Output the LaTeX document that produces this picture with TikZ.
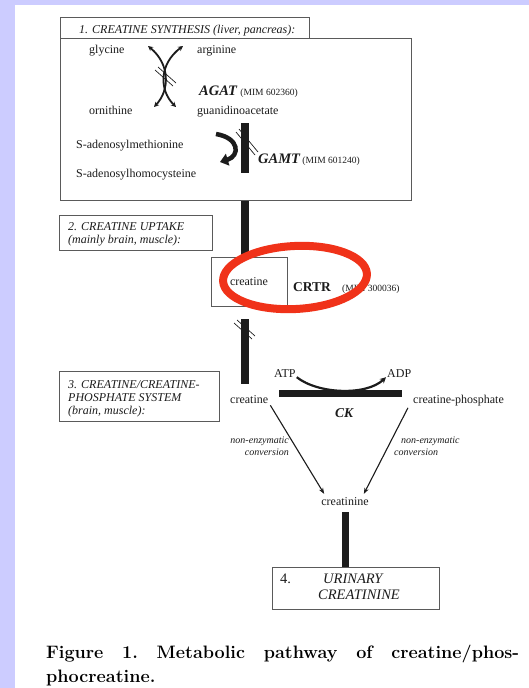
\documentclass[tikz,border=0pt]{standalone}
\usepackage{fontspec}
\newfontfamily\tms{Liberation Serif}
\usetikzlibrary{arrows.meta,calc}
\definecolor{lav}{RGB}{204,204,255}
\definecolor{ink}{RGB}{28,28,28}
\definecolor{framegray}{RGB}{90,90,90}
\definecolor{ring}{RGB}{240,50,25}

\tikzset{
  lbl/.style={inner sep=0pt, anchor=base west, text=ink, font=\tms\fontsize{12}{13}\selectfont},
  ttl/.style={inner sep=0pt, anchor=base west, text=ink, font=\tms\itshape\fontsize{12}{13}\selectfont},
  enz/.style={inner sep=0pt, anchor=base west, text=ink, font=\tms\bfseries\itshape\fontsize{14.5}{16}\selectfont},
  mim/.style={inner sep=0pt, anchor=base west, text=ink, font=\tms\fontsize{9.5}{10}\selectfont},
  note/.style={inner sep=0pt, text=ink, font=\tms\itshape\fontsize{10}{11}\selectfont},
  urine/.style={inner sep=0pt, anchor=base west, text=ink, font=\tms\itshape\fontsize{14.5}{16}\selectfont},
  boxframe/.style={draw=framegray, line width=1pt, inner sep=0pt, anchor=north west},
  bar/.style={line width=7.5pt, draw=ink},
  hatch/.style={line width=0.7pt, draw=ink},
  react/.style={line width=1.8pt, draw=ink, {Stealth[length=5pt,width=5pt]}-{Stealth[length=5pt,width=5pt]}},
  arr/.style={line width=1.1pt, draw=ink, -{Stealth[length=6pt,width=4.5pt]}},
  captext/.style={inner sep=0pt, anchor=base west, font=\bfseries\fontsize{18}{24}\selectfont},
}

\begin{document}
\begin{tikzpicture}[x=1pt,y=-1pt]
\useasboundingbox (0,0) rectangle (529,688);
% page background with the coloured margin
\fill[lav] (0,0) rectangle (529,688);
\fill[white] (15,5) rectangle (529,688);

% ---------- 1. synthesis ----------
\node[boxframe, minimum width=249pt, minimum height=21pt] (t1) at (60,17) {};
\node[boxframe, minimum width=351pt, minimum height=162pt] (b1) at (60,38) {};
\node[ttl] (t1a) at (79,33) {1. CREATINE SYNTHESIS (liver, pancreas):};

\node[lbl] (gly) at (89,53) {glycine};
\node[lbl] (arg) at (197,53) {arginine};
\node[lbl] (orn) at (89,114) {ornithine};
\node[lbl] (gaa) at (197,114) {guanidinoacetate};
\node[enz] (agat) at (199,95) {AGAT};
\node[mim] (agatm) at ([xshift=3pt]agat.base east) {(MIM 602360)};

% AGAT exchange arcs
\coordinate (a1) at (148,46);
\coordinate (a2) at (154,107);
\coordinate (a3) at (183,46);
\coordinate (a4) at (176,107);
\draw[react] (a1) .. controls (170,64) and (170,90) .. (a2);
\draw[react] (a3) .. controls (159,64) and (159,90) .. (a4);
\draw[hatch] (155,70) -- (173,86);
\draw[hatch] (158,67) -- (176,83);

\node[lbl] (sam) at (76,148) {S-adenosylmethionine};
\node[lbl] (sah) at (76,177) {S-adenosylhomocysteine};
\node[enz] (gamt) at (258,163) {GAMT};
\node[mim] (gamtm) at ([xshift=2pt]gamt.base east) {(MIM 601240)};

% GAMT step
\coordinate (axis) at (245,0);
\coordinate (g1) at (245,123);
\coordinate (g2) at (245,173);
\draw[bar, line width=8pt] (g1) -- (g2);
\draw[hatch] (236,132) -- (255,155);
\draw[hatch] (239,129) -- (258,152);
\coordinate (m1) at (216,134);
\coordinate (m2) at (220,162);
\draw[line width=4.5pt, draw=ink, -{Triangle[length=8pt,width=12pt]}]
  (m1) .. controls (240,138) and (240,156) .. (m2);

% ---------- 2. uptake ----------
\node[boxframe, minimum width=153pt, minimum height=35pt] (t2) at (59,215) {};
\node[ttl] (t2a) at (68,230) {2. CREATINE UPTAKE};
\node[ttl] (t2b) at (68,243) {(mainly brain, muscle):};

\node[boxframe, minimum width=76pt, minimum height=49pt] (crbox) at (211,257) {};
\node[lbl, anchor=base] (cr2) at (249,285) {creatine};
\node[inner sep=0pt, anchor=base west, text=ink, font=\tms\bfseries\fontsize{13.5}{15}\selectfont] (crtr) at (293,291) {CRTR};
\node[mim] (crtrm) at (342,291) {(MIM 300036)};

\draw[bar] (b1.south -| axis) -- (crbox.north -| axis);

% ---------- 3. creatine / creatine-phosphate ----------
\node[boxframe, minimum width=160pt, minimum height=50pt] (t3) at (59,371) {};
\node[ttl] (t3a) at (68,388) {3. CREATINE/CREATINE-};
\node[ttl] (t3b) at (68,401) {PHOSPHATE SYSTEM};
\node[ttl] (t3c) at (68,414) {(brain, muscle):};

\node[lbl] (cr3) at (230,403) {creatine};
\node[lbl] (cp) at (413,403) {creatine-phosphate};
\node[lbl] (atp) at (274,377) {ATP};
\node[lbl] (adp) at (387,377) {ADP};
\node[enz, font=\tms\bfseries\itshape\fontsize{13.5}{15}\selectfont] (ck) at (335,417) {CK};

\draw[bar, shorten <=12pt, shorten >=11pt] (crbox.south -| axis) -- (cr3.north -| axis);
\draw[hatch] (234,323) -- (252,339);
\draw[hatch] (237,320) -- (255,336);

\coordinate (ckL) at (279,393.5);
\coordinate (ckR) at (402,393.5);
\draw[bar, line width=7pt] (ckL) -- (ckR);
\draw[line width=2.2pt, draw=ink, -{Stealth[length=6pt,width=6pt]}]
  ([xshift=1pt]atp.south east) .. controls (318,394) and (366,396) .. ([xshift=-1pt]adp.south west);

\node[lbl, anchor=base] (crn) at (345,505) {creatinine};
\draw[arr] ([shift={(2,2)}]cr3.south east) -- ([shift={(3,-3)}]crn.north west);
\draw[arr] ([shift={(-5,2)}]cp.south west) -- ([shift={(-5,-3)}]crn.north east);

\node[note, anchor=base east] (n1a) at (289,443) {non-enzymatic};
\node[note, anchor=base east] (n1b) at (289,455) {conversion};
\node[note, anchor=base west] (n2a) at (401,443) {non-enzymatic};
\node[note, anchor=base west] (n2b) at (394,455) {conversion};

% ---------- 4. urinary creatinine ----------
\node[boxframe, minimum width=167pt, minimum height=42pt] (box4) at (272,567) {};
\node[inner sep=0pt, anchor=base west, text=ink, font=\tms\fontsize{14.5}{16}\selectfont] (u0) at (280,583) {4.};
\node[urine] (u1) at (323,583) {URINARY};
\node[urine] (u2) at (318,599) {CREATININE};
\draw[bar, line width=7pt, shorten <=7pt] (crn.south) -- (crn.south |- box4.north);

% ---------- transporter highlight ----------
\begin{scope}[rotate around={3:(295,277.5)}]
  \draw[ring, line width=8pt] (295,277.5) ellipse [x radius=72pt, y radius=31.5pt];
\end{scope}

% ---------- caption ----------
\node[captext] (cap1) at (46,658)
  {\hbox to 473pt{Figure\hfill 1.\hfill Metabolic\hfill pathway\hfill of\hfill creatine/phos-}};
\node[captext] (cap2) at (46,682) {phocreatine.};
\end{tikzpicture}
\end{document}
